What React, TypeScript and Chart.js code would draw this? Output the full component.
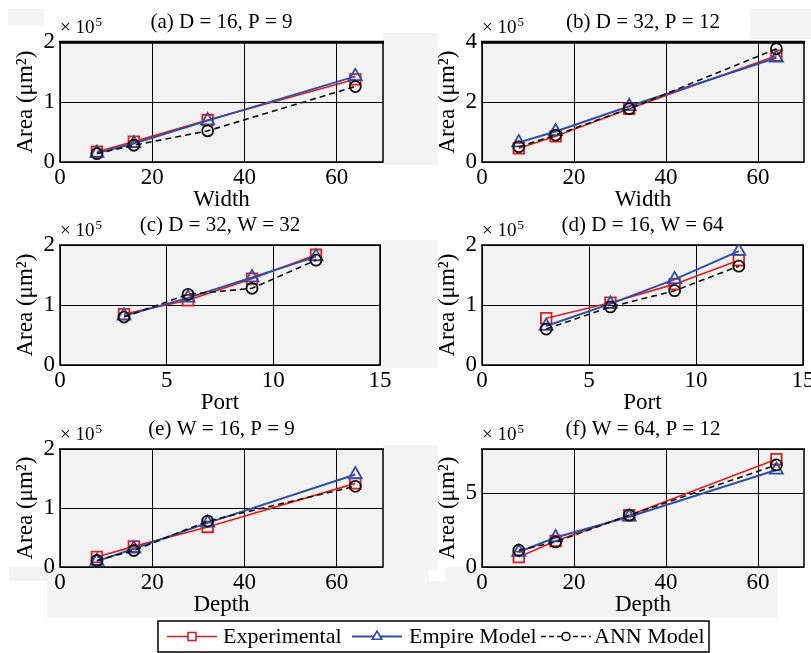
import React, { useEffect, useRef } from 'react';
import { Chart, registerables } from 'chart.js';

Chart.register(...registerables);

const FONT = "'Liberation Serif', 'Times New Roman', serif";

// ---------- data ----------
const seriesNames = ['Experimental', 'Empire Model', 'ANN Model'];

const widthValues = [8, 16, 32, 64];
const portValues = [3, 6, 9, 12];
const depthValues = [8, 16, 32, 64];

const widthTicks = [0, 20, 40, 60];
const portTicks = [0, 5, 10, 15];
const depthTicks = [0, 20, 40, 60];
const yTicksTwo = [0, 1, 2];
const yTicksFour = [0, 2, 4];
const yTicksEight = [0, 5];

// (a) D = 16, P = 9  (x10^5 um^2)
const aExperimental = [0.17, 0.34, 0.70, 1.38];
const aEmpire = [0.15, 0.31, 0.69, 1.43];
const aANN = [0.14, 0.28, 0.52, 1.26];
// (b) D = 32, P = 12
const bExperimental = [0.46, 0.86, 1.78, 3.55];
const bEmpire = [0.65, 1.02, 1.86, 3.48];
const bANN = [0.51, 0.90, 1.78, 3.78];
// (c) D = 32, W = 32
const cExperimental = [0.85, 1.08, 1.44, 1.84];
const cEmpire = [0.82, 1.12, 1.46, 1.81];
const cANN = [0.80, 1.18, 1.28, 1.75];
// (d) D = 16, W = 64
const dExperimental = [0.78, 1.04, 1.35, 1.75];
const dEmpire = [0.65, 1.02, 1.43, 1.90];
const dANN = [0.60, 0.97, 1.24, 1.65];
// (e) W = 16, P = 9
const eExperimental = [0.17, 0.35, 0.68, 1.42];
const eEmpire = [0.10, 0.31, 0.75, 1.57];
const eANN = [0.11, 0.28, 0.78, 1.37];
// (f) W = 64, P = 12
const fExperimental = [0.68, 1.77, 3.52, 7.32];
const fEmpire = [1.02, 2.0, 3.41, 6.59];
const fANN = [1.14, 1.70, 3.52, 6.93];

// ---------- styles ----------
const RED = '#e01e1e';
const BLUE = '#2f4ea6';
const BLACK = '#111111';

type Panel = {
  title: string;
  xLabel: string;
  xs: number[];
  xTicks: number[];
  xMax: number;
  yTicks: number[];
  yMax: number;
  exp: number[];
  emp: number[];
  ann: number[];
  rect: { l: number; t: number; r: number; b: number };
  topWidth: number;
};

const panels: Panel[] = [
  { title: '(a) D = 16, P = 9', xLabel: 'Width', xs: widthValues, xTicks: widthTicks, xMax: 70, yTicks: yTicksTwo, yMax: 2, exp: aExperimental, emp: aEmpire, ann: aANN, rect: { l: 60, t: 42, r: 383, b: 162 }, topWidth: 3 },
  { title: '(b) D = 32, P = 12', xLabel: 'Width', xs: widthValues, xTicks: widthTicks, xMax: 70, yTicks: yTicksFour, yMax: 4, exp: bExperimental, emp: bEmpire, ann: bANN, rect: { l: 482, t: 42, r: 804, b: 162 }, topWidth: 3 },
  { title: '(c) D = 32, W = 32', xLabel: 'Port', xs: portValues, xTicks: portTicks, xMax: 15, yTicks: yTicksTwo, yMax: 2, exp: cExperimental, emp: cEmpire, ann: cANN, rect: { l: 60, t: 245, r: 380, b: 365 }, topWidth: 1.5 },
  { title: '(d) D = 16, W = 64', xLabel: 'Port', xs: portValues, xTicks: portTicks, xMax: 15, yTicks: yTicksTwo, yMax: 2, exp: dExperimental, emp: dEmpire, ann: dANN, rect: { l: 482, t: 245, r: 803, b: 365 }, topWidth: 1.5 },
  { title: '(e) W = 16, P = 9', xLabel: 'Depth', xs: depthValues, xTicks: depthTicks, xMax: 70, yTicks: yTicksTwo, yMax: 2, exp: eExperimental, emp: eEmpire, ann: eANN, rect: { l: 60, t: 449, r: 383, b: 567 }, topWidth: 1.5 },
  { title: '(f) W = 64, P = 12', xLabel: 'Depth', xs: depthValues, xTicks: depthTicks, xMax: 70, yTicks: yTicksEight, yMax: 8, exp: fExperimental, emp: fEmpire, ann: fANN, rect: { l: 482, t: 449, r: 804, b: 567 }, topWidth: 1.5 },
];

const bgRects: [number, number, number, number][] = [
  [8, 9, 36, 16],
  [383, 33, 55, 132],
  [380, 240, 58, 128],
  [383, 445, 55, 125],
  [750, 9, 61, 30],
  [9, 567, 420, 14],
  [445, 567, 333, 14],
  [47, 581, 731, 37],
];

function makeDatasets(p: Panel) {
  const pts = (ys: number[]) => p.xs.map((x, i) => ({ x, y: ys[i] }));
  return [
    {
      label: seriesNames[0], data: pts(p.exp), borderColor: RED, borderWidth: 1.6,
      pointStyle: 'rect', pointRadius: 7.5, pointBorderWidth: 1.8, pointBorderColor: RED,
      pointBackgroundColor: 'rgba(0,0,0,0)', backgroundColor: 'rgba(0,0,0,0)', order: 3,
    },
    {
      label: seriesNames[1], data: pts(p.emp), borderColor: BLUE, borderWidth: 2,
      pointStyle: 'triangle', pointRadius: 7.5, pointBorderWidth: 1.8, pointBorderColor: BLUE,
      pointBackgroundColor: 'rgba(0,0,0,0)', backgroundColor: 'rgba(0,0,0,0)', order: 2,
    },
    {
      label: seriesNames[2], data: pts(p.ann), borderColor: BLACK, borderWidth: 1.6, borderDash: [6, 4],
      pointStyle: 'circle', pointRadius: 5.5, pointBorderWidth: 1.8, pointBorderColor: BLACK,
      pointBackgroundColor: 'rgba(0,0,0,0)', backgroundColor: 'rgba(0,0,0,0)', order: 1,
    },
  ];
}

const framePlugin = {
  id: 'frame',
  beforeDraw(chart: any) {
    const { ctx, chartArea: a } = chart;
    ctx.save();
    ctx.fillStyle = '#f2f2f2';
    ctx.fillRect(a.left, a.top, a.right - a.left, a.bottom - a.top);
    ctx.restore();
  },
  beforeDatasetsDraw(chart: any, _args: any, opts: any) {
    const { ctx, chartArea: a } = chart;
    ctx.save();
    ctx.strokeStyle = '#000';
    ctx.lineWidth = 1.5;
    ctx.strokeRect(a.left, a.top, a.right - a.left, a.bottom - a.top);
    ctx.lineWidth = opts.topWidth || 1.5;
    ctx.beginPath();
    ctx.moveTo(a.left - 1, a.top);
    ctx.lineTo(a.right + 1, a.top);
    ctx.stroke();
    ctx.restore();
  },
  afterDraw(chart: any) {
    const { ctx, chartArea: a } = chart;
    ctx.save();
    ctx.fillStyle = '#000';
    ctx.textBaseline = 'middle';
    ctx.textAlign = 'left';
    ctx.font = `19px ${FONT}`;
    const base = '\u00d7 10';
    ctx.fillText(base, a.left, a.top - 14);
    const w = ctx.measureText(base).width;
    ctx.font = `13px ${FONT}`;
    ctx.fillText('5', a.left + w + 1, a.top - 20);
    ctx.restore();
  },
};

function PanelChart({ p }: { p: Panel }) {
  const ref = useRef<HTMLCanvasElement>(null);
  const w = p.rect.r - p.rect.l + 80;
  const h = p.rect.b - p.rect.t + 97;
  useEffect(() => {
    const chart = new Chart(ref.current!, {
      type: 'line',
      data: { datasets: makeDatasets(p) as any },
      options: {
        animation: false,
        responsive: false,
        devicePixelRatio: 1,
        layout: { padding: { left: 0, right: 20, top: 0, bottom: 0 } },
        plugins: {
          legend: { display: false },
          tooltip: { enabled: false },
          title: {
            display: true, text: p.title, fullSize: false, color: '#000',
            font: { family: FONT, size: 21, weight: 'normal' },
            padding: { top: 10, bottom: 7 },
          },
          frame: { topWidth: p.topWidth },
        } as any,
        scales: {
          x: {
            type: 'linear', min: 0, max: p.xMax,
            afterBuildTicks: (s: any) => { s.ticks = p.xTicks.map((v) => ({ value: v })); },
            afterFit: (s: any) => { s.height = 55; },
            grid: { color: '#000', lineWidth: 1, drawTicks: false },
            border: { display: false },
            ticks: { color: '#000', font: { family: FONT, size: 23 }, padding: 2, maxRotation: 0, autoSkip: false },
            title: { display: true, text: p.xLabel, color: '#000', font: { family: FONT, size: 23 }, padding: { top: 0, bottom: 3 } },
          },
          y: {
            type: 'linear', min: 0, max: p.yMax,
            afterBuildTicks: (s: any) => { s.ticks = p.yTicks.map((v) => ({ value: v })); },
            afterFit: (s: any) => { s.width = 60; },
            grid: { color: '#000', lineWidth: 1, drawTicks: false },
            border: { display: false },
            ticks: { color: '#000', font: { family: FONT, size: 23 }, padding: 5, autoSkip: false },
            title: { display: true, text: 'Area (\u03bcm\u00b2)', color: '#000', font: { family: FONT, size: 23 }, padding: { top: 12, bottom: 0 } },
          },
        },
      },
      plugins: [framePlugin],
    });
    return () => chart.destroy();
  }, []);
  return (
    <div style={{ position: 'absolute', left: p.rect.l - 60, top: p.rect.t - 42, width: w, height: h }}>
      <canvas ref={ref} width={w} height={h} style={{ width: w, height: h, display: 'block' }} />
    </div>
  );
}

const legendItemX = [10, 195, 384];
const legendTextX = [66, 252, 437];

const legendPlugin = {
  id: 'mlegend',
  afterDraw(chart: any) {
    const ctx = chart.ctx;
    const W = chart.width;
    const H = chart.height;
    ctx.save();
    ctx.fillStyle = '#fff';
    ctx.fillRect(1, 1, W - 2, H - 2);
    ctx.strokeStyle = '#000';
    ctx.lineWidth = 1.5;
    ctx.strokeRect(1, 1, W - 2, H - 2);
    const cy = H / 2;
    chart.data.datasets.forEach((ds: any, i: number) => {
      const x0 = legendItemX[i];
      ctx.save();
      ctx.strokeStyle = ds.borderColor;
      ctx.lineWidth = ds.borderWidth;
      ctx.setLineDash(ds.borderDash || []);
      ctx.beginPath();
      ctx.moveTo(x0, cy);
      ctx.lineTo(x0 + 50, cy);
      ctx.stroke();
      ctx.setLineDash([]);
      const mx = x0 + 25;
      ctx.lineWidth = 1.6;
      ctx.beginPath();
      if (ds.pointStyle === 'rect') {
        ctx.rect(mx - 4, cy - 4, 8, 8);
      } else if (ds.pointStyle === 'triangle') {
        const r = 5.5;
        ctx.moveTo(mx, cy - r);
        ctx.lineTo(mx + r * 0.866, cy + r * 0.5);
        ctx.lineTo(mx - r * 0.866, cy + r * 0.5);
        ctx.closePath();
      } else {
        ctx.arc(mx, cy, 4, 0, Math.PI * 2);
      }
      ctx.fillStyle = '#fff';
      ctx.fill();
      ctx.stroke();
      ctx.restore();
      ctx.fillStyle = '#000';
      ctx.font = `22px ${FONT}`;
      ctx.textBaseline = 'middle';
      ctx.textAlign = 'left';
      ctx.fillText(ds.label, legendTextX[i], cy + 1);
    });
    ctx.restore();
  },
};

function LegendChart() {
  const ref = useRef<HTMLCanvasElement>(null);
  const w = 553;
  const h = 33;
  useEffect(() => {
    const chart = new Chart(ref.current!, {
      type: 'line',
      data: {
        datasets: [
          { label: seriesNames[0], data: [], borderColor: RED, borderWidth: 1.6, pointStyle: 'rect' },
          { label: seriesNames[1], data: [], borderColor: BLUE, borderWidth: 2, pointStyle: 'triangle' },
          { label: seriesNames[2], data: [], borderColor: BLACK, borderWidth: 1.6, borderDash: [5, 3], pointStyle: 'circle' },
        ] as any,
      },
      options: {
        animation: false,
        responsive: false,
        devicePixelRatio: 1,
        plugins: { legend: { display: false }, tooltip: { enabled: false } },
        scales: { x: { display: false }, y: { display: false } },
      },
      plugins: [legendPlugin],
    });
    return () => chart.destroy();
  }, []);
  return (
    <div style={{ position: 'absolute', left: 157, top: 620, width: w, height: h }}>
      <canvas ref={ref} width={w} height={h} style={{ width: w, height: h, display: 'block' }} />
    </div>
  );
}

export default function App() {
  return (
    <div style={{ position: 'fixed', left: 0, top: 0, width: 811, height: 653, overflow: 'hidden', background: '#fff' }}>
      {bgRects.map(([x, y, w, h], i) => (
        <div key={i} style={{ position: 'absolute', left: x, top: y, width: w, height: h, background: '#f4f4f4' }} />
      ))}
      {panels.map((p, i) => (
        <PanelChart key={i} p={p} />
      ))}
      <LegendChart />
    </div>
  );
}
